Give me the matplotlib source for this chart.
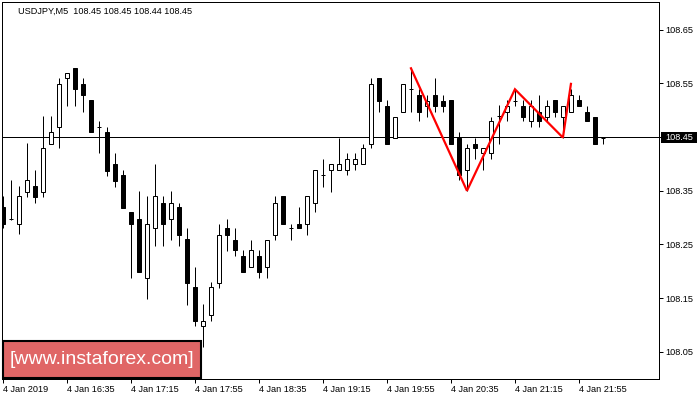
import numpy as np
import matplotlib as mpl
mpl.use("Agg")
import matplotlib.pyplot as plt
from matplotlib.patches import Rectangle
from matplotlib import font_manager as fm
from matplotlib.transforms import blended_transform_factory

# quote header
symbol = "USDJPY,M5"
last_quote = [108.45, 108.45, 108.44, 108.45]
current_price = 108.45

# 5 minute bars, 4 Jan 2019 15:55 .. 22:10
opens = [108.320, 108.298, 108.289, 108.348, 108.359, 108.348, 108.438, 108.468, 108.560, 108.579,
         108.549, 108.519, 108.468, 108.459, 108.400, 108.379, 108.310, 108.298, 108.188, 108.280,
         108.328, 108.298, 108.319, 108.260, 108.170, 108.098, 108.119, 108.179, 108.280, 108.259,
         108.229, 108.209, 108.229, 108.209, 108.268, 108.340, 108.280, 108.289, 108.289, 108.328,
         108.379, 108.388, 108.388, 108.388, 108.399, 108.399, 108.438, 108.560, 108.508, 108.449,
         108.497, 108.539, 108.528, 108.508, 108.528, 108.518, 108.519, 108.449, 108.388, 108.438,
         108.420, 108.420, 108.489, 108.497, 108.518, 108.508, 108.479, 108.497, 108.488, 108.519,
         108.488, 108.497, 108.519, 108.497, 108.488, 108.449]
highs = [108.340, 108.370, 108.359, 108.439, 108.388, 108.489, 108.489, 108.560, 108.569, 108.579,
         108.560, 108.519, 108.480, 108.469, 108.420, 108.388, 108.310, 108.349, 108.340, 108.400,
         108.340, 108.349, 108.328, 108.280, 108.209, 108.140, 108.180, 108.289, 108.298, 108.280,
         108.239, 108.259, 108.239, 108.259, 108.340, 108.340, 108.289, 108.319, 108.340, 108.388,
         108.409, 108.399, 108.449, 108.420, 108.420, 108.438, 108.560, 108.560, 108.519, 108.488,
         108.549, 108.578, 108.539, 108.528, 108.560, 108.528, 108.519, 108.460, 108.438, 108.449,
         108.429, 108.488, 108.510, 108.519, 108.538, 108.519, 108.519, 108.528, 108.519, 108.519,
         108.508, 108.540, 108.528, 108.508, 108.488, 108.449]
lows = [108.280, 108.296, 108.269, 108.339, 108.327, 108.339, 108.438, 108.429, 108.508, 108.508,
        108.497, 108.459, 108.420, 108.377, 108.357, 108.318, 108.188, 108.199, 108.148, 108.247,
        108.247, 108.258, 108.247, 108.138, 108.098, 108.059, 108.107, 108.169, 108.238, 108.229,
        108.199, 108.209, 108.188, 108.188, 108.259, 108.289, 108.259, 108.280, 108.268, 108.310,
        108.357, 108.348, 108.388, 108.379, 108.388, 108.399, 108.429, 108.497, 108.438, 108.449,
        108.497, 108.497, 108.479, 108.488, 108.497, 108.497, 108.438, 108.370, 108.349, 108.409,
        108.388, 108.409, 108.438, 108.479, 108.508, 108.479, 108.468, 108.468, 108.479, 108.488,
        108.449, 108.497, 108.508, 108.479, 108.438, 108.438]
closes = [108.289, 108.298, 108.340, 108.370, 108.339, 108.429, 108.459, 108.549, 108.569, 108.539,
          108.528, 108.459, 108.468, 108.387, 108.368, 108.318, 108.289, 108.199, 108.289, 108.340,
          108.289, 108.328, 108.268, 108.178, 108.107, 108.107, 108.170, 108.268, 108.268, 108.239,
          108.199, 108.239, 108.199, 108.259, 108.328, 108.289, 108.280, 108.280, 108.340, 108.388,
          108.379, 108.399, 108.399, 108.409, 108.409, 108.429, 108.549, 108.518, 108.438, 108.488,
          108.549, 108.539, 108.497, 108.518, 108.508, 108.508, 108.438, 108.379, 108.429, 108.429,
          108.429, 108.479, 108.489, 108.508, 108.518, 108.488, 108.508, 108.479, 108.508, 108.497,
          108.508, 108.528, 108.508, 108.479, 108.438, 108.449]

time_labels = ["4 Jan 2019", "4 Jan 16:35", "4 Jan 17:15", "4 Jan 17:55", "4 Jan 18:35",
               "4 Jan 19:15", "4 Jan 19:55", "4 Jan 20:35", "4 Jan 21:15", "4 Jan 21:55"]
price_ticks = [108.05, 108.15, 108.25, 108.35, 108.45, 108.55, 108.65]

# red zigzag pattern (bar index, price)
pattern_bars = [51, 58, 64, 70, 71]
pattern_prices = [108.578, 108.350, 108.539, 108.449, 108.549]

watermark = "[www.instaforex.com]"

PX = 0.72  # one pixel in points at dpi 100
FONT = "Liberation Sans"
plt.rcParams['font.family'] = [FONT, 'DejaVu Sans']

try:
    fm.findfont('Liberation Sans Narrow', fallback_to_default=False)
    wm_font, wm_size = 'Liberation Sans Narrow', 17
except ValueError:
    wm_font, wm_size = FONT, 14


def draw_candles(ax, o, h, l, c, width=0.55):
    for i in range(len(o)):
        ax.vlines(i, l[i], h[i], color='black', lw=PX, zorder=3)
        lo, hi = min(o[i], c[i]), max(o[i], c[i])
        if hi - lo < 0.002:
            ax.hlines(o[i], i - width / 2, i + width / 2, color='black', lw=PX, zorder=4)
        else:
            face = 'white' if c[i] > o[i] else 'black'
            ax.add_patch(Rectangle((i - width / 2, lo), width, hi - lo,
                                   facecolor=face, edgecolor='black', lw=PX, zorder=4))


fig = plt.figure(figsize=(7, 4), dpi=100)
fig.patch.set_facecolor('white')
ax = fig.add_axes([2.3 / 700, 20.7 / 400, 657 / 700, 377.6 / 400])

n = len(opens)
ax.axhline(current_price, color='black', lw=PX, zorder=2)
draw_candles(ax, opens, highs, lows, closes)
ax.plot(pattern_bars, pattern_prices, color='#ff0000', lw=1.6, zorder=6,
        solid_joinstyle='miter')

ax.set_xlim(-0.1, 82.05)
ax.set_ylim(107.999, 108.702)

ax.yaxis.tick_right()
ax.set_yticks(price_ticks)
ax.set_yticklabels(["%.2f" % p for p in price_ticks])
ax.set_xticks(list(range(0, n, 8))[:len(time_labels)])
ax.set_xticklabels(time_labels, ha='left')
ax.tick_params(axis='both', direction='out', length=3, width=PX, labelsize=6.6,
               colors='black')
ax.tick_params(axis='x', pad=1)
ax.tick_params(axis='y', pad=1.5)
for sp in ax.spines.values():
    sp.set_linewidth(PX)
    sp.set_color('black')

# current price marker on the price scale
trans = blended_transform_factory(ax.transAxes, ax.transData)
ax.add_patch(Rectangle((1.0026, current_price - 0.0105), 0.0548, 0.0194,
                       transform=trans, facecolor='black', edgecolor='none',
                       clip_on=False, zorder=7))
ax.text(1.0097, current_price - 0.001, "%.2f" % current_price, transform=trans,
        color='white', fontsize=6.6, va='center', ha='left', zorder=8)

# header
fig.text(18 / 700, 1 - 11 / 400,
         "%s  %s" % (symbol, " ".join("%.2f" % q for q in last_quote)),
         fontsize=6.6, va='center', ha='left', color='black')

# watermark box
fig.patches.append(Rectangle((2.7 / 700, (400 - 378.3) / 400), 198.6 / 700, 37.6 / 400,
                             transform=fig.transFigure, facecolor='#e06666',
                             edgecolor='black', lw=1.5, zorder=10))
fig.text(102 / 700, 1 - 360 / 400, watermark, color='white', fontsize=wm_size,
         family=[wm_font, FONT], ha='center', va='center', zorder=11)

fig.savefig("out.png", dpi=100)
